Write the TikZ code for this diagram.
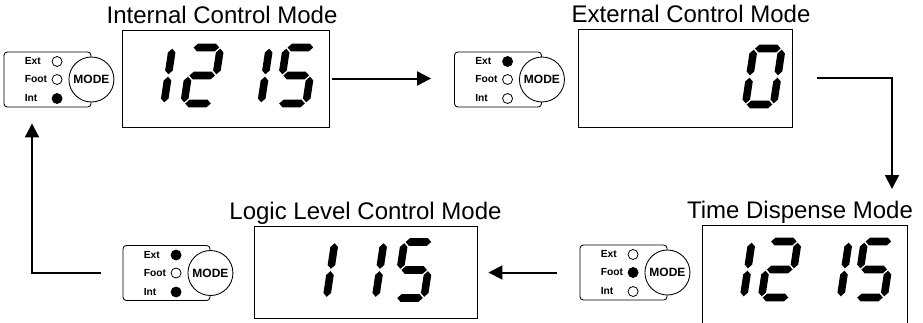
\documentclass[tikz,border=0pt]{standalone}
\usepackage{fontspec}
\setmainfont{Liberation Sans}
\usetikzlibrary{arrows.meta,calc,positioning}
\newcommand{\PX}{0.75pt}
\newcommand{\DigW}{28}
\newcommand{\DigH}{56}
\newcommand{\DigT}{3.8}
\newcommand{\DigGap}{1.2}
\newcommand{\DigSlant}{0.15}
\colorlet{lcdInk}{black}
\colorlet{ledOn}{black}
\colorlet{ledOff}{white}
\newcommand{\HSeg}[1]{%
  % #1 = y of the bar
  \fill[lcdInk] (\DigGap,#1) -- (\DigGap+\DigT,#1+\DigT)
    -- (\DigW-\DigGap-\DigT,#1+\DigT) -- (\DigW-\DigGap,#1)
    -- (\DigW-\DigGap-\DigT,#1-\DigT) -- (\DigGap+\DigT,#1-\DigT) -- cycle;
}
\newcommand{\VSeg}[2]{%
  % #1 = x of the bar  #2 = y of its lower end
  \fill[lcdInk] (#1,#2+\DigGap) -- (#1+\DigT,#2+\DigGap+\DigT)
    -- (#1+\DigT,#2+\DigH/2-\DigGap-\DigT) -- (#1,#2+\DigH/2-\DigGap)
    -- (#1-\DigT,#2+\DigH/2-\DigGap-\DigT) -- (#1-\DigT,#2+\DigGap+\DigT) -- cycle;
}
\newcommand{\Sega}{\HSeg{\DigH}}
\newcommand{\Segb}{\VSeg{\DigW}{\DigH/2}}
\newcommand{\Segc}{\VSeg{\DigW}{0}}
\newcommand{\Segd}{\HSeg{0}}
\newcommand{\Sege}{\VSeg{0}{0}}
\newcommand{\Segf}{\VSeg{0}{\DigH/2}}
\newcommand{\Segg}{\HSeg{\DigH/2}}
\newcommand{\Digit}[3]{%
  % #1,#2 = lower left corner  #3 = lit segments
  \begin{scope}[shift={(#1,#2)}, xslant=\DigSlant]
    \foreach \s in {#3}{\csname Seg\s\endcsname}
  \end{scope}
}
\newcommand{\Display}[5]{%
  % #1=name  #2=left  #3=top  #4=right  #5=bottom
  \node[display, minimum width={(#4-#2)*\PX}, minimum height={(#5-#3)*\PX}]
    (#1) at ({(#2+#4)/2},{-(#3+#5)/2}) {};
}
\newcommand{\ModePanel}[5]{%
  % #1=name  #2=centre  #3=Ext  #4=Foot  #5=Int
  \node[panel] (#1) at #2 {};
  \node[modebtn] (#1m) at (#1.east) {MODE};
  \node[ledlbl] (#1le) at ($(#1.west)+(21,18)$) {Ext};
  \node[ledlbl] (#1lf) at ($(#1.west)+(21,0)$) {Foot};
  \node[ledlbl] (#1li) at ($(#1.west)+(21,-19)$) {Int};
  \node[led, fill=#3] (#1e) at ($(#1.west)+(53.5,18)$) {};
  \node[led, fill=#4] (#1f) at ($(#1.west)+(53.5,0)$) {};
  \node[led, fill=#5] (#1i) at ($(#1.west)+(53.5,-19)$) {};
}

\begin{document}
\begin{tikzpicture}[
  x=\PX, y=\PX,
  title/.style   = {font=\fontsize{18}{20}\selectfont, inner sep=0pt, anchor=base},
  display/.style = {draw, line width=0.7pt, inner sep=0pt},
  panel/.style   = {draw, rounded corners=2.5pt, line width=0.65pt,
                    minimum width=87*\PX, minimum height=55*\PX, inner sep=0pt},
  modebtn/.style = {circle, draw, fill=white, line width=0.65pt,
                    minimum size=45*\PX, inner sep=0pt,
                    font=\fontsize{9}{10}\selectfont\bfseries},
  led/.style     = {circle, draw, line width=0.6pt, minimum size=10*\PX, inner sep=0pt},
  ledlbl/.style  = {font=\fontsize{7.7}{9}\selectfont\bfseries, inner sep=0pt, anchor=west},
  flow/.style    = {line width=1.5pt, -{Triangle[length=10.5pt,width=10.5pt]}},
]
\useasboundingbox (0,0) rectangle (923,-322);

% ----------------------------------------------------------------
% Displays and titles
% ----------------------------------------------------------------
\Display{d1}{122}{30}{329}{127}
\Display{d2}{578}{29}{792}{127}
\Display{d4}{254}{226}{477}{318}
\Display{d5}{702}{225}{907}{325}

\node[title] (t1) at ([xshift=-2.6pt, yshift=4.5pt] d1.north) {Internal Control Mode};
\node[title] (t2) at ([xshift=4.5pt, yshift=4.5pt] d2.north) {External Control Mode};
\node[title] (t4) at ([yshift=4.5pt] d4.north) {Logic Level Control Mode};
\node[title] (t5) at ([xshift=-3.4pt, yshift=4.5pt] d5.north) {Time Dispense Mode};

% ----------------------------------------------------------------
% Seven segment readouts
% ----------------------------------------------------------------
\Digit{136}{-103.5}{b,c}
\Digit{184}{-103.5}{a,b,g,e,d}
\Digit{233}{-103.5}{b,c}
\Digit{278}{-103.5}{a,f,g,c,d}

\Digit{745.5}{-104.5}{a,b,c,d,e,f}

\Digit{298.5}{-298}{b,c}
\Digit{347.5}{-298}{b,c}
\Digit{396}{-298}{a,f,g,c,d}

\Digit{715.5}{-297.5}{b,c}
\Digit{761.5}{-297.5}{a,b,g,e,d}
\Digit{812.5}{-297.5}{b,c}
\Digit{856}{-297.5}{a,f,g,c,d}

% ----------------------------------------------------------------
% Mode selector panels
% ----------------------------------------------------------------
\ModePanel{p1}{(47.5,-79.5)}{ledOff}{ledOff}{ledOn}
\ModePanel{p2}{(498,-79.5)}{ledOn}{ledOff}{ledOff}
\ModePanel{p4}{(166.5,-273)}{ledOn}{ledOff}{ledOn}
\ModePanel{p5}{(623.5,-272.5)}{ledOff}{ledOn}{ledOff}

% ----------------------------------------------------------------
% Mode cycle
% ----------------------------------------------------------------
\coordinate (turnR) at (892,-78);
\coordinate (dropR) at (892,-189);
\coordinate (turnL) at (32,-273);

\draw[flow, shorten <=2.25pt, shorten >=17.25pt] (d1.east) -- (d1.east -| p2.west);
\draw[flow, shorten <=18.75pt] (d2.east) -- (turnR) -- (dropR);
\draw[flow, shorten <=17.25pt, shorten >=8.25pt] (p5.west) -- (p5.west -| d4.east);
\draw[flow, shorten <=16.5pt, shorten >=12pt] (p4.west) -- (turnL) -- (turnL |- p1.south);

\end{tikzpicture}
\end{document}
